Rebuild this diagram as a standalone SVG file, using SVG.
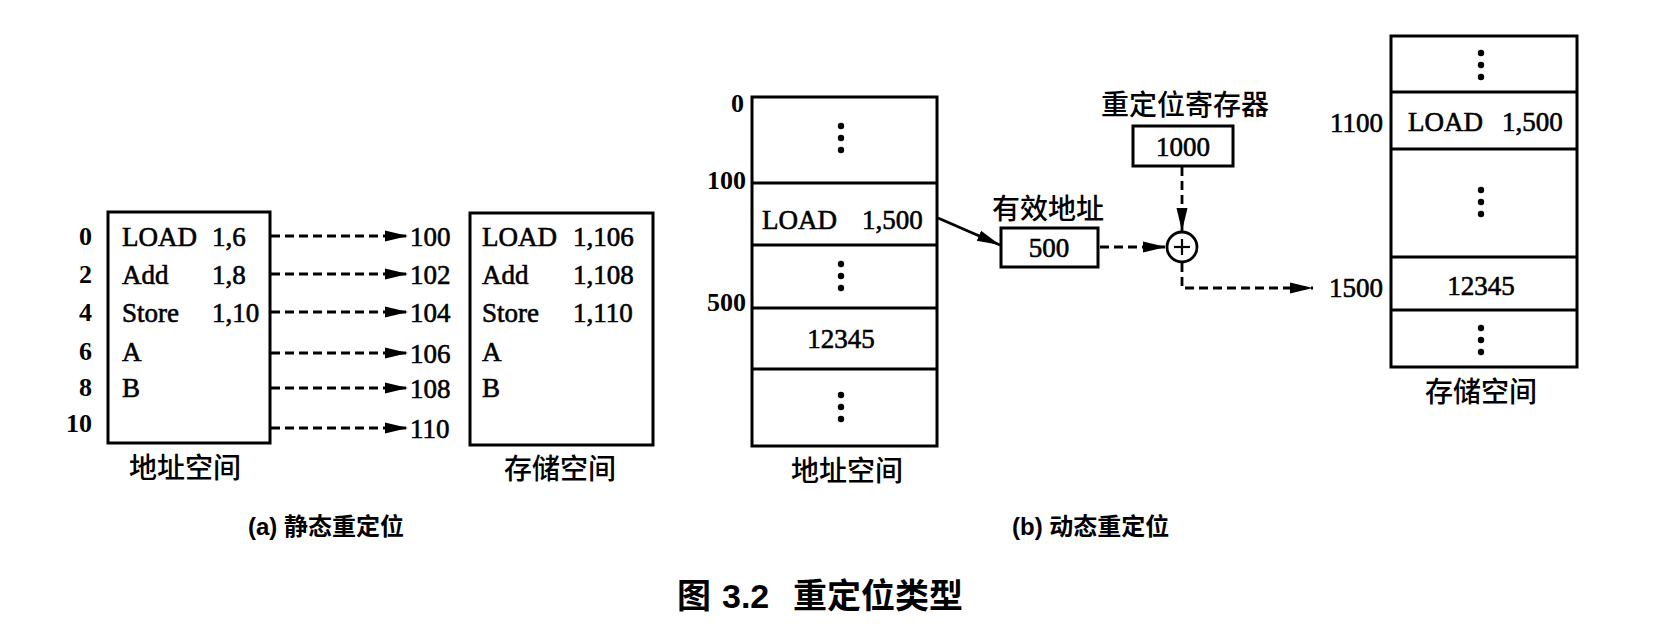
<svg xmlns="http://www.w3.org/2000/svg" width="1670" height="624" viewBox="0 0 1670 624">
<style>
.box{fill:none;stroke:#000;stroke-width:3}
.div{stroke:#000;stroke-width:3}
.t{font-family:"Liberation Serif","Times New Roman",serif;font-size:27px;fill:#000;stroke:#000;stroke-width:0.6}
.tb{font-family:"Liberation Serif","Times New Roman",serif;font-size:26px;font-weight:bold;fill:#000}
.c{font-family:"Noto Sans CJK SC","Noto Sans CJK JP",sans-serif;font-size:28px;fill:#000;font-weight:500}
.sub{font-family:"Liberation Sans","Noto Sans CJK SC",sans-serif;font-size:24px;font-weight:bold;fill:#000}
.cap{font-family:"Liberation Sans","Noto Sans CJK SC",sans-serif;font-size:34px;font-weight:bold;fill:#000}
.dash{fill:none;stroke:#000;stroke-width:2.8;stroke-dasharray:9 5}
.solid{fill:none;stroke:#000;stroke-width:2.8}
.mid{text-anchor:middle}
.end{text-anchor:end}
</style>
<defs>
<marker id="ah" markerUnits="userSpaceOnUse" markerWidth="26" markerHeight="14" refX="23" refY="7" orient="auto">
<path d="M0,1.5 L23,7 L0,12.5 z" fill="#000"/>
</marker>
<g id="vdots">
<circle cx="0" cy="-12" r="3.2"/>
<circle cx="0" cy="0" r="3.2"/>
<circle cx="0" cy="12" r="3.2"/>
</g>
</defs>

<!-- (a) static relocation -->
<g id="a-addr">
<rect class="box" x="108" y="212" width="162" height="231"/>
<text class="tb end" x="92" y="245">0</text>
<text class="tb end" x="92" y="283">2</text>
<text class="tb end" x="92" y="321">4</text>
<text class="tb end" x="92" y="360">6</text>
<text class="tb end" x="92" y="396">8</text>
<text class="tb end" x="92" y="432">10</text>
<text class="t" x="122" y="246">LOAD</text><text class="t" x="212" y="246">1,6</text>
<text class="t" x="122" y="284">Add</text><text class="t" x="212" y="284">1,8</text>
<text class="t" x="122" y="322">Store</text><text class="t" x="212" y="322">1,10</text>
<text class="t" x="122" y="361">A</text>
<text class="t" x="122" y="397">B</text>
<text class="c mid" x="185" y="478">地址空间</text>
</g>

<g id="a-mem">
<rect class="box" x="470" y="213" width="183" height="232"/>
<text class="t" x="410" y="246">100</text>
<text class="t" x="410" y="284">102</text>
<text class="t" x="410" y="322">104</text>
<text class="t" x="410" y="363">106</text>
<text class="t" x="410" y="398">108</text>
<text class="t" x="410" y="438">110</text>
<text class="t" x="482" y="246">LOAD</text><text class="t" x="573" y="246">1,106</text>
<text class="t" x="482" y="284">Add</text><text class="t" x="573" y="284">1,108</text>
<text class="t" x="482" y="322">Store</text><text class="t" x="573" y="322">1,110</text>
<text class="t" x="482" y="361">A</text>
<text class="t" x="482" y="397">B</text>
<text class="c mid" x="560" y="479">存储空间</text>
</g>

<!-- (b) dynamic relocation -->
<g id="b-addr">
<rect class="box" x="752" y="97" width="185" height="349"/>
<line class="div" x1="752" y1="183" x2="937" y2="183"/>
<line class="div" x1="752" y1="245" x2="937" y2="245"/>
<line class="div" x1="752" y1="308" x2="937" y2="308"/>
<line class="div" x1="752" y1="369" x2="937" y2="369"/>
<text class="tb end" x="744" y="112">0</text>
<text class="tb end" x="746" y="189">100</text>
<text class="tb end" x="746" y="311">500</text>
<use href="#vdots" x="841" y="138"/>
<use href="#vdots" x="841" y="276"/>
<use href="#vdots" x="841" y="407"/>
<text class="t" x="762" y="229">LOAD</text><text class="t" x="862" y="229">1,500</text>
<text class="t mid" x="841" y="348">12345</text>
<text class="c mid" x="847" y="481">地址空间</text>
</g>

<g id="b-ea">
<text class="c mid" x="1048" y="219">有效地址</text>
<rect class="box" x="1001" y="228" width="97" height="39"/>
<text class="t mid" x="1049" y="257">500</text>
</g>

<g id="b-reg">
<text class="c mid" x="1185" y="115">重定位寄存器</text>
<rect class="box" x="1133" y="126" width="100" height="40"/>
<text class="t mid" x="1183" y="156">1000</text>
</g>

<g id="b-adder">
<circle cx="1182" cy="247" r="15" fill="none" stroke="#000" stroke-width="2.8"/>
<line x1="1182" y1="239" x2="1182" y2="255" stroke="#000" stroke-width="2.2"/>
<line x1="1174" y1="247" x2="1190" y2="247" stroke="#000" stroke-width="2.2"/>
</g>

<g id="b-mem">
<rect class="box" x="1391" y="36" width="186" height="331"/>
<line class="div" x1="1391" y1="92" x2="1577" y2="92"/>
<line class="div" x1="1391" y1="149" x2="1577" y2="149"/>
<line class="div" x1="1391" y1="257" x2="1577" y2="257"/>
<line class="div" x1="1391" y1="310" x2="1577" y2="310"/>
<use href="#vdots" x="1481" y="65"/>
<use href="#vdots" x="1481" y="202"/>
<use href="#vdots" x="1481" y="340"/>
<text class="t end" x="1383" y="132">1100</text>
<text class="t end" x="1383" y="297">1500</text>
<text class="t" x="1408" y="131">LOAD</text><text class="t" x="1502" y="131">1,500</text>
<text class="t mid" x="1481" y="295">12345</text>
<text class="c mid" x="1481" y="402">存储空间</text>
</g>

<g id="connectors">
<line class="dash" x1="271" y1="236" x2="408" y2="236" marker-end="url(#ah)"/>
<line class="dash" x1="271" y1="274" x2="408" y2="274" marker-end="url(#ah)"/>
<line class="dash" x1="271" y1="312" x2="408" y2="312" marker-end="url(#ah)"/>
<line class="dash" x1="271" y1="353" x2="408" y2="353" marker-end="url(#ah)"/>
<line class="dash" x1="271" y1="388" x2="408" y2="388" marker-end="url(#ah)"/>
<line class="dash" x1="271" y1="428" x2="408" y2="428" marker-end="url(#ah)"/>
<line class="solid" x1="938" y1="218" x2="1000" y2="245" marker-end="url(#ah)"/>
<line class="dash" x1="1100" y1="247" x2="1166" y2="247" marker-end="url(#ah)"/>
<line class="dash" x1="1182" y1="167" x2="1182" y2="231" marker-end="url(#ah)"/>
<polyline class="dash" points="1182,263 1182,288 1313,288" marker-end="url(#ah)"/>
</g>

<g id="labels">
<text class="sub" x="248" y="535">(a) 静态重定位</text>
<text class="sub" x="1012" y="535">(b) 动态重定位</text>
<text class="cap" y="608"><tspan x="677">图</tspan><tspan x="722">3.2</tspan><tspan x="793">重定位类型</tspan></text>
</g>
</svg>
